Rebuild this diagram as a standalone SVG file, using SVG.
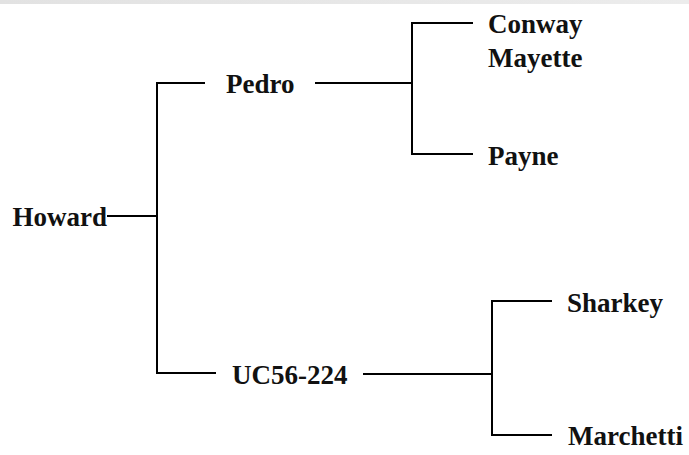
<svg xmlns="http://www.w3.org/2000/svg" width="689" height="455" viewBox="0 0 689 455">
<defs>
<linearGradient id="band" x1="0" y1="0" x2="1" y2="0">
<stop offset="0" stop-color="#e2e2e2"/>
<stop offset="1" stop-color="#ececec"/>
</linearGradient>
</defs>
<style>
.lbl{font-family:"Liberation Serif","Times New Roman",serif;font-weight:bold;font-size:27px;fill:#111}
.c{stroke:#000;stroke-width:2;fill:none}
</style>
<rect x="0" y="0" width="689" height="455" fill="#fff"/>
<rect x="0" y="0" width="689" height="4" fill="url(#band)"/>
<g id="connectors" class="c">
<path d="M107 216 H157"/>
<path d="M205 83 H157 V373 H216"/>
<path d="M315 83 H412"/>
<path d="M473 23 H412 V154 H473"/>
<path d="M363 374 H492"/>
<path d="M552 301 H492 V435 H552"/>
</g>
<g id="howard"><text class="lbl" x="12.5" y="226">Howard</text></g>
<g id="pedro"><text class="lbl" x="226" y="93">Pedro</text></g>
<g id="uc56-224"><text class="lbl" x="232" y="384">UC56-224</text></g>
<g id="conway-mayette"><text class="lbl" x="488" y="33">Conway</text><text class="lbl" x="488" y="67">Mayette</text></g>
<g id="payne"><text class="lbl" x="488" y="165">Payne</text></g>
<g id="sharkey"><text class="lbl" x="567" y="312">Sharkey</text></g>
<g id="marchetti"><text class="lbl" x="568" y="445">Marchetti</text></g>
</svg>
